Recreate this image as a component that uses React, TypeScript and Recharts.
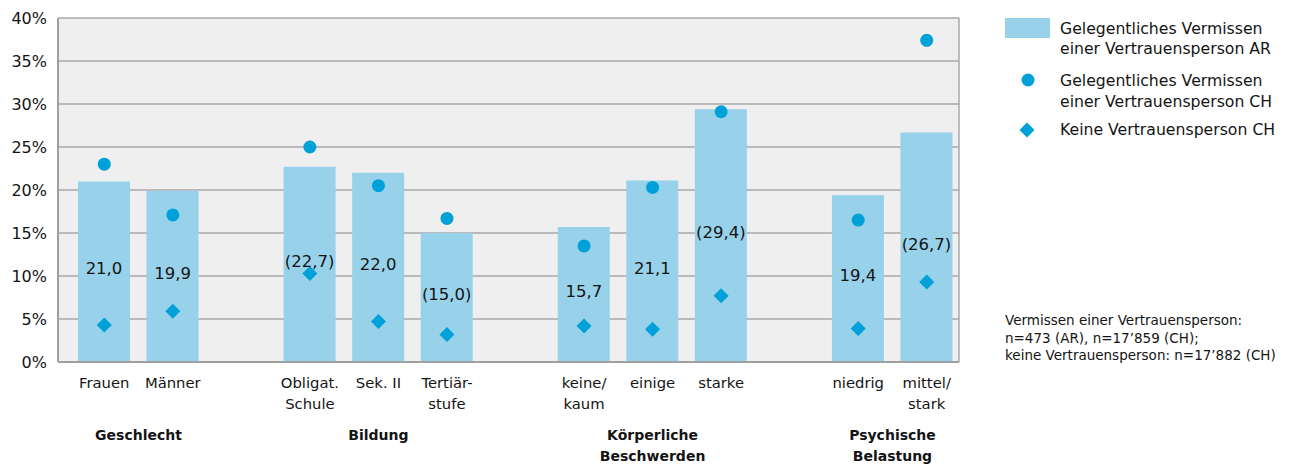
import React from "react";
import { ComposedChart, Bar, Scatter, XAxis, YAxis, CartesianGrid, LabelList, Legend } from "recharts";

const categoryLines: string[][] = [
  ["Frauen"], ["Männer"], [], ["Obligat.", "Schule"], ["Sek. II"], ["Tertiär-", "stufe"], [],
  ["keine/", "kaum"], ["einige"], ["starke"], [], ["niedrig"], ["mittel/", "stark"],
];
const arValues: (number | null)[] = [21.0, 19.9, null, 22.7, 22.0, 15.0, null, 15.7, 21.1, 29.4, null, 19.4, 26.7];
const arLabels: string[] = ["21,0", "19,9", "", "(22,7)", "22,0", "(15,0)", "", "15,7", "21,1", "(29,4)", "", "19,4", "(26,7)"];
const chValues: (number | null)[] = [23.0, 17.1, null, 25.0, 20.5, 16.7, null, 13.5, 20.3, 29.1, null, 16.5, 37.4];
const noneValues: (number | null)[] = [4.3, 5.9, null, 10.3, 4.7, 3.2, null, 4.2, 3.8, 7.7, null, 3.9, 9.3];
const groups = [
  { from: 0, to: 1, lines: ["Geschlecht"] },
  { from: 3, to: 5, lines: ["Bildung"] },
  { from: 7, to: 9, lines: ["Körperliche", "Beschwerden"] },
  { from: 11, to: 12, lines: ["Psychische", "Belastung"] },
];
const yTicks = [0, 5, 10, 15, 20, 25, 30, 35, 40];
const seriesNames = [
  ["Gelegentliches Vermissen", "einer Vertrauensperson AR"],
  ["Gelegentliches Vermissen", "einer Vertrauensperson CH"],
  ["Keine Vertrauensperson CH"],
];
const noteLines = [
  "Vermissen einer Vertrauensperson:",
  "n=473 (AR), n=17’859 (CH);",
  "keine Vertrauensperson: n=17’882 (CH)",
];

const data = categoryLines.map((_, i) => ({
  key: String(i),
  ar: arValues[i],
  arLabel: arLabels[i],
  ch: chValues[i],
  none: noneValues[i],
}));

const FONT = "'DejaVu Sans', sans-serif";
const TEXT = "#141414";
const BAR = "#97d1ea";
const DOT = "#00a0d8";
const GRID = "#a8a8a8";
const W = 1282;
const H = 459;
const M = { top: 10, right: 331, left: 0, bottom: 0 };
const Y_W = 50;
const PAD_L = 12;
const PAD_R = -2;
const BAND = (W - M.left - M.right - Y_W - PAD_L - PAD_R) / categoryLines.length;

const CategoryTick = (props: any) => {
  const { x, y, payload } = props;
  const i = Number(payload.value);
  const lines = categoryLines[i] || [];
  const group = groups.find((g) => g.from === i);
  return (
    <g>
      {lines.map((l, k) => (
        <text key={k} x={x} y={y + 18 + k * 21} textAnchor="middle" fontSize={14.8} fill={TEXT} fontFamily={FONT}>
          {l}
        </text>
      ))}
      {group &&
        group.lines.map((l, k) => (
          <text
            key={"g" + k}
            x={x + ((group.to - group.from) / 2) * BAND}
            y={y + 70 + k * 21}
            textAnchor="middle"
            fontSize={14}
            fontWeight="bold"
            fill={TEXT}
            fontFamily={FONT}
          >
            {l}
          </text>
        ))}
    </g>
  );
};

const CircleShape = (props: any) => {
  const { cx, cy, payload } = props;
  if (payload == null || payload.ch == null || !Number.isFinite(cx) || !Number.isFinite(cy)) return <g />;
  return <circle cx={cx} cy={cy} r={6.5} fill={DOT} />;
};

const DiamondShape = (props: any) => {
  const { cx, cy, payload } = props;
  if (payload == null || payload.none == null || !Number.isFinite(cx) || !Number.isFinite(cy)) return <g />;
  const d = 7.5;
  return <polygon points={`${cx},${cy - d} ${cx + d},${cy} ${cx},${cy + d} ${cx - d},${cy}`} fill={DOT} />;
};

const BarLabel = (props: any) => {
  const { x, y, width, height, value } = props;
  if (!value) return null;
  return (
    <text
      x={x + width / 2}
      y={y + height / 2 - 3}
      textAnchor="middle"
      dominantBaseline="central"
      fontSize={16.5}
      fill={TEXT}
      fontFamily={FONT}
    >
      {value}
    </text>
  );
};

const LegendContent = () => (
  <div style={{ position: "relative", width: 285, height: H, fontFamily: FONT, color: TEXT }}>
    <div style={{ position: "absolute", left: 0, top: 10, width: 45, height: 20, background: BAR }} />
    <div style={{ position: "absolute", left: 55, top: 11, fontSize: 15.7, lineHeight: "20px", whiteSpace: "nowrap" }}>
      {seriesNames[0][0]}
      <br />
      {seriesNames[0][1]}
    </div>
    <svg style={{ position: "absolute", left: 0, top: 0 }} width={45} height={140}>
      <circle cx={23} cy={72} r={6.5} fill={DOT} />
      <polygon points="22,114.5 29.5,122 22,129.5 14.5,122" fill={DOT} />
    </svg>
    <div style={{ position: "absolute", left: 55, top: 62, fontSize: 15.7, lineHeight: "21px", whiteSpace: "nowrap" }}>
      {seriesNames[1][0]}
      <br />
      {seriesNames[1][1]}
    </div>
    <div style={{ position: "absolute", left: 55, top: 112, fontSize: 15.7, lineHeight: "20px", whiteSpace: "nowrap" }}>
      {seriesNames[2][0]}
    </div>
    <div style={{ position: "absolute", left: 0, top: 304, fontSize: 13.5, lineHeight: "17.5px", whiteSpace: "nowrap" }}>
      {noteLines.map((l, k) => (
        <div key={k}>{l}</div>
      ))}
    </div>
  </div>
);

export default function App() {
  return (
    <ComposedChart width={W} height={H} data={data} margin={M}>
      <CartesianGrid
        vertical={true}
        horizontal={true}
        fill="#efefef"
        stroke={GRID}
        strokeWidth={1.5}
        verticalCoordinatesGenerator={(p: any) => [p.offset.left + p.offset.width]}
      />
      <XAxis
        dataKey="key"
        interval={0}
        tick={<CategoryTick />}
        tickLine={false}
        axisLine={{ stroke: "#a0a0a0", strokeWidth: 2 }}
        height={H - M.top - M.bottom - 344}
        padding={{ left: PAD_L, right: PAD_R }}
      />
      <YAxis
        width={Y_W}
        domain={[0, 40]}
        ticks={yTicks}
        tickFormatter={(v: number) => `${v}%`}
        tickLine={false}
        tickMargin={5}
        axisLine={{ stroke: "#a0a0a0", strokeWidth: 2 }}
        tick={{ fontSize: 16, fill: TEXT, fontFamily: FONT }}
        interval={0}
      />
      <Legend
        layout="vertical"
        align="center"
        verticalAlign="middle"
        wrapperStyle={{ left: 997, top: 0, width: 285, height: H }}
        content={<LegendContent />}
      />
      <Bar dataKey="ar" name={seriesNames[0].join(" ")} fill={BAR} barSize={52} isAnimationActive={false}>
        <LabelList dataKey="arLabel" content={<BarLabel />} />
      </Bar>
      <Scatter dataKey="ch" name={seriesNames[1].join(" ")} fill={DOT} shape={<CircleShape />} isAnimationActive={false} />
      <Scatter dataKey="none" name={seriesNames[2][0]} fill={DOT} shape={<DiamondShape />} isAnimationActive={false} />
    </ComposedChart>
  );
}
